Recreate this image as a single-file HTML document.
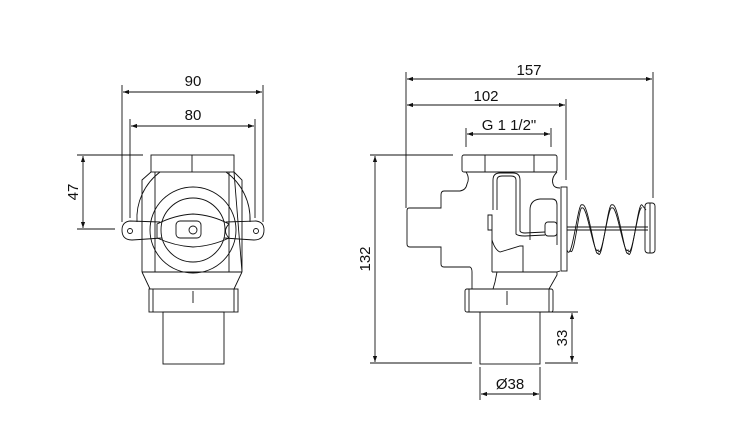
<!DOCTYPE html>
<html><head><meta charset="utf-8"><style>
html,body{margin:0;padding:0;background:#fff;}
svg{display:block;}
text{font-family:"Liberation Sans",Arial,sans-serif;font-size:15px;fill:#111;}
</style></head><body>
<svg width="730" height="440" viewBox="0 0 730 440" xmlns="http://www.w3.org/2000/svg">
<defs>
<marker id="a" viewBox="0 0 10 10" refX="10" refY="5" markerWidth="10" markerHeight="6" orient="auto-start-reverse" markerUnits="userSpaceOnUse">
<path d="M0,1.5 L10,5 L0,8.5 z" fill="#111"/></marker>
</defs>
<g stroke="#111" stroke-width="0.9" fill="none">
<line x1="122" y1="85" x2="122" y2="222"/><line x1="263" y1="85" x2="263" y2="222"/>
<line x1="123" y1="92" x2="262" y2="92" marker-start="url(#a)" marker-end="url(#a)"/>
<line x1="130" y1="119" x2="130" y2="218"/><line x1="255" y1="119" x2="255" y2="218"/>
<line x1="131" y1="126" x2="254" y2="126" marker-start="url(#a)" marker-end="url(#a)"/>
<line x1="77" y1="155" x2="143" y2="155"/><line x1="77" y1="229" x2="115" y2="229"/>
<line x1="83" y1="156" x2="83" y2="228" marker-start="url(#a)" marker-end="url(#a)"/>
<rect x="151" y="155" width="83" height="17"/>
<line x1="192" y1="155" x2="192" y2="172"/>
<path d="M142,272 L142,180 L151,172 M234,172 L242,180 L242,272 Z"/>
<line x1="142" y1="272" x2="242" y2="272"/>
<line x1="155" y1="172" x2="155" y2="272"/><line x1="229" y1="172" x2="229" y2="272"/>
<path d="M137,222 A58,58 0 0 1 160,172"/><path d="M250,222 A58,58 0 0 0 226,172"/>
<circle cx="193" cy="230" r="43"/>
<circle cx="193" cy="230" r="32"/>
<path d="M160,222 L130,221 Q122,222 122,230 Q122,240 132,240 L162,238"/>
<path d="M226,222 L256,221 Q264,222 264,230 Q264,240 254,240 L224,238"/>
<circle cx="130" cy="231" r="2.5"/><circle cx="256" cy="231" r="2.5"/>
<path d="M157,224 Q175,215 193,214 Q212,215 229,224 Q222,231 229,238 Q212,246 193,247 Q175,246 157,238 Z"/>
<rect x="176" y="221" width="25" height="17" rx="4"/>
<circle cx="193" cy="230" r="4"/>
<path d="M142,272 L150,289 M242,272 L234,289"/>
<rect x="149" y="289" width="89" height="23"/>
<line x1="153" y1="289" x2="153" y2="312"/><line x1="234" y1="289" x2="234" y2="312"/>
<line x1="193" y1="291" x2="193" y2="303"/>
<rect x="163" y="312" width="61" height="52"/>

<line x1="406" y1="72" x2="406" y2="208"/><line x1="653" y1="72" x2="653" y2="198"/>
<line x1="407" y1="79" x2="652" y2="79" marker-start="url(#a)" marker-end="url(#a)"/>
<line x1="566" y1="99" x2="566" y2="180"/>
<line x1="407" y1="105" x2="565" y2="105" marker-start="url(#a)" marker-end="url(#a)"/>
<line x1="466" y1="128" x2="466" y2="147"/><line x1="551" y1="128" x2="551" y2="147"/>
<line x1="467" y1="134" x2="550" y2="134" marker-start="url(#a)" marker-end="url(#a)"/>
<line x1="370" y1="155" x2="453" y2="155"/><line x1="370" y1="363" x2="472" y2="363"/>
<line x1="375" y1="156" x2="375" y2="362" marker-start="url(#a)" marker-end="url(#a)"/>
<line x1="545" y1="312" x2="578" y2="312"/><line x1="545" y1="363" x2="578" y2="363"/>
<line x1="572" y1="313" x2="572" y2="362" marker-start="url(#a)" marker-end="url(#a)"/>
<line x1="480" y1="367" x2="480" y2="400"/><line x1="540" y1="367" x2="540" y2="400"/>
<line x1="481" y1="394" x2="539" y2="394" marker-start="url(#a)" marker-end="url(#a)"/>
<rect x="462" y="155" width="95" height="17" rx="2"/>
<line x1="485" y1="155" x2="485" y2="172"/><line x1="534" y1="155" x2="534" y2="172"/>
<path d="M466,172 Q470,178 467,184 Q466,190 460,191 L444,191 Q441,191 441,195 L441,208 L409,208 Q407,208 407,211 L407,244 Q407,247 410,247 L441,247 L441,264 Q441,267 444,267 L470,267 Q472,268 472,272 L472,289"/>
<path d="M557,172 Q551,178 553,184 Q554,188 560,188"/>
<rect x="561" y="187" width="6" height="84"/>
<path d="M560,271 L557,272 L557,275 L549,289"/>
<line x1="492" y1="272" x2="557" y2="272"/>
<path d="M497,272 L495,282 L493,289"/>
<path d="M492,272 L492,215 L488,215 L488,230 L492,230"/>
<path d="M492,240 Q495,250 500,252 L520,246 L523,246 L523,272"/>
<path d="M493,210 L493,180 Q493,173 500,173 L513,173 Q520,173 520,180 L520,231 Q521,233 525,233 L545,232"/>
<path d="M497,210 L497,180 Q497,176 502,176 L511,176 Q516,176 516,180 L516,234 Q518,236 525,236 L545,235"/>
<path d="M530,240 L530,210 Q530,200 540,199 L552,199 Q557,199 557,205 L557,245"/>
<rect x="545" y="222" width="12" height="14" rx="3"/>
<line x1="567" y1="227" x2="648" y2="227"/><line x1="567" y1="230" x2="648" y2="230"/>
<path d="M567,250 C572,265 578,200 582,205 C588,200 595,260 598,253 C602,265 608,200 612,205 C618,200 625,260 628,253 C632,265 638,200 642,205 L646,210"/>
<path d="M570,250 C574,262 579,204 582,208 C587,204 594,257 598,250 C602,262 608,204 612,208 C617,204 624,257 628,250 C632,262 638,204 642,208"/>
<rect x="645" y="203" width="10" height="50" rx="3"/>
<line x1="650" y1="203" x2="650" y2="253"/>
<rect x="465" y="289" width="88" height="23" rx="2"/>
<line x1="469" y1="289" x2="469" y2="312"/><line x1="549" y1="289" x2="549" y2="312"/>
<line x1="507" y1="291" x2="507" y2="305"/>
<rect x="480" y="312" width="60" height="52"/>
</g>
<text x="193" y="86" text-anchor="middle">90</text>
<text x="193" y="120" text-anchor="middle">80</text>
<text transform="translate(78,192) rotate(-90)" text-anchor="middle">47</text>
<text x="529" y="75" text-anchor="middle">157</text>
<text x="486" y="101" text-anchor="middle">102</text>
<text x="509" y="130" text-anchor="middle">G 1 1/2"</text>
<text transform="translate(370,259) rotate(-90)" text-anchor="middle">132</text>
<text transform="translate(567,338) rotate(-90)" text-anchor="middle">33</text>
<text x="510" y="389" text-anchor="middle">Ø38</text>
</svg>
</body></html>
